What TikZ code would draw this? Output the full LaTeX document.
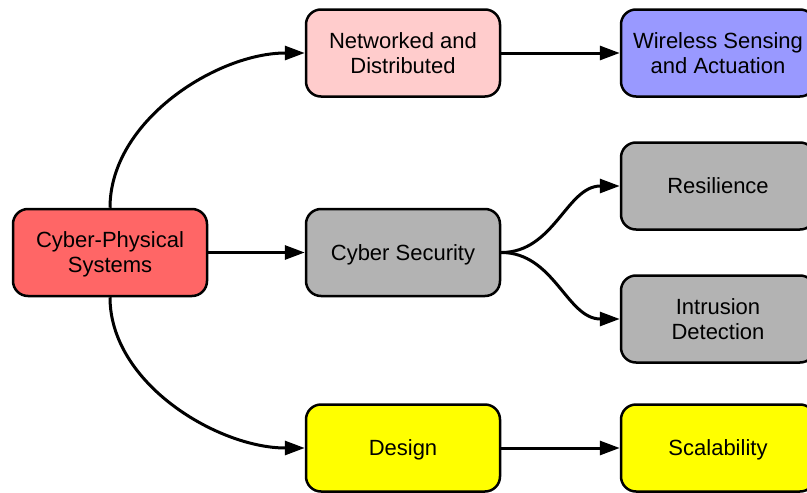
\documentclass[tikz,border=0pt]{standalone}
\usepackage{fontspec}
\setmainfont{Liberation Sans}
\usetikzlibrary{arrows.meta}
\definecolor{cpsred}{HTML}{FF6666}
\definecolor{netpink}{HTML}{FFCCCC}
\definecolor{wsblue}{HTML}{9999FF}
\definecolor{secgray}{HTML}{B3B3B3}
\definecolor{desyellow}{HTML}{FFFF00}
% box label: centred lines, set slightly below the geometric centre
\newcommand{\celltext}[1]{\raisebox{-2.5pt}[\height][\depth]{\begin{tabular}{@{}c@{}}#1\end{tabular}}}
\tikzset{
  box/.style={draw=black, line width=2.5pt, rounded corners=15pt,
    minimum width=194pt, minimum height=87pt,
    font=\fontsize{22}{25}\selectfont, inner sep=0pt},
  link/.style={line width=3pt, -{Triangle[length=20pt,width=14pt]}}
}
\begin{document}
\begin{tikzpicture}[x=1pt,y=-1pt]
\useasboundingbox (0,0) rectangle (807,493);
\node[box, fill=cpsred] (cps) at (110,252.5) {\celltext{Cyber-Physical\\Systems}};
\node[box, fill=netpink] (net) at (403,53) {\celltext{Networked and\\Distributed}};
\node[box, fill=wsblue] (ws) at (718,53) {\celltext{Wireless Sensing\\and Actuation}};
\node[box, fill=secgray] (sec) at (403,252.5) {\celltext{Cyber Security}};
\node[box, fill=secgray] (res) at (718,186) {\celltext{Resilience}};
\node[box, fill=secgray] (ids) at (718,319) {\celltext{Intrusion\\Detection}};
\node[box, fill=desyellow] (des) at (403,448) {\celltext{Design}};
\node[box, fill=desyellow] (sca) at (718,448) {\celltext{Scalability}};

\draw[link] (cps.north) to[out=90,in=180,looseness=0.9] (net.west);
\draw[link] (cps.east) -- (sec.west);
\draw[link] (cps.south) to[out=-90,in=180,looseness=0.9] (des.west);
\draw[link] (net.east) -- (ws.west);
\draw[link] (sec.east) to[out=0,in=180] (res.west);
\draw[link] (sec.east) to[out=0,in=180] (ids.west);
\draw[link] (des.east) -- (sca.west);
\end{tikzpicture}
\end{document}
